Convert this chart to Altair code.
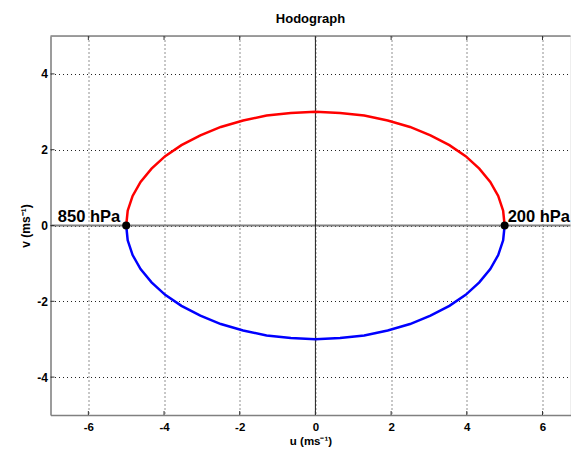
import altair as alt
import pandas as pd

# ---- data ----
u_vals = [-5.00, -4.96, -4.83, -4.62, -4.33, -3.97, -3.54, -3.04, -2.50, -1.91, -1.29, -0.65, 0.00,
          0.65, 1.29, 1.91, 2.50, 3.04, 3.54, 3.97, 4.33, 4.62, 4.83, 4.96, 5.00]
red_v = [0.00, 0.39, 0.78, 1.15, 1.50, 1.83, 2.12, 2.38, 2.60, 2.77, 2.90, 2.97, 3.00,
         2.97, 2.90, 2.77, 2.60, 2.38, 2.12, 1.83, 1.50, 1.15, 0.78, 0.39, 0.00]
blue_v = [0.00, -0.39, -0.78, -1.15, -1.50, -1.83, -2.12, -2.38, -2.60, -2.77, -2.90, -2.97, -3.00,
          -2.97, -2.90, -2.77, -2.60, -2.38, -2.12, -1.83, -1.50, -1.15, -0.78, -0.39, 0.00]
level_names = ["850 hPa", "200 hPa"]
level_u = [-5.0, 5.0]
level_v = [0.0, 0.0]
x_ticks = [-6, -4, -2, 0, 2, 4, 6]
y_ticks = [-4, -2, 0, 2, 4]

W, H = 520, 379
FONT = "Liberation Sans"
FRAME = "#808080"

red_df = pd.DataFrame({"u": u_vals, "v": red_v, "i": range(len(u_vals))})
blue_df = pd.DataFrame({"u": u_vals, "v": blue_v, "i": range(len(u_vals))})
lvl_df = pd.DataFrame({"u": level_u, "v": level_v, "name": level_names})
xt_df = pd.DataFrame({"u": x_ticks})
yt_df = pd.DataFrame({"v": y_ticks})

xscale = alt.Scale(domain=[-7, 6.74], nice=False, zero=False)
yscale = alt.Scale(domain=[-5, 5], nice=False, zero=False)

LBL = "'' + datum.value"

xaxis = alt.Axis(values=x_ticks, title="u (ms⁻¹)", grid=True, gridDash=[1, 3], gridColor="#222",
                 gridWidth=1, domainColor=FRAME, domainWidth=1.5, ticks=False, tickSize=0,
                 labelFont=FONT, labelFontWeight="bold", labelFontSize=11.5, labelPadding=6,
                 labelColor="#000", labelExpr=LBL,
                 titleFont=FONT, titleFontWeight="bold", titleFontSize=11.5,
                 titleColor="#000", titleY=29, titleBaseline="alphabetic")
yaxis = alt.Axis(values=y_ticks, title="v (ms⁻¹)", grid=True, gridDash=[1, 3], gridColor="#222",
                 gridWidth=1, domainColor=FRAME, domainWidth=1.5, ticks=False, tickSize=0,
                 labelFont=FONT, labelFontWeight="bold", labelFontSize=12, labelPadding=3,
                 labelColor="#000", labelExpr=LBL,
                 titleFont=FONT, titleFontWeight="bold", titleFontSize=12,
                 titleColor="#000", titleX=-21, titleY=H / 2, titleBaseline="alphabetic",
                 titleAngle=270)

X = lambda: alt.X("u:Q", scale=xscale, axis=xaxis)
Y = lambda: alt.Y("v:Q", scale=yscale, axis=yaxis)

red = alt.Chart(red_df).mark_line(color="#FF0000", strokeWidth=2.5).encode(
    x=X(), y=Y(), order="i:Q")
blue = alt.Chart(blue_df).mark_line(color="#0000FF", strokeWidth=2.5).encode(
    x=X(), y=Y(), order="i:Q")

zero_h = alt.Chart(pd.DataFrame({"v": [0]})).mark_rule(color=FRAME, strokeWidth=2).encode(y=Y())
zero_v = alt.Chart(pd.DataFrame({"u": [0]})).mark_rule(color="#222", strokeWidth=1).encode(x=X())

top_border = alt.Chart(pd.DataFrame({"a": [0]})).mark_rule(color=FRAME, strokeWidth=1.5).encode(
    x=alt.value(0), x2=alt.value(W), y=alt.value(0))

tick_bottom = alt.Chart(xt_df).mark_rule(color="#333", strokeWidth=1).encode(
    x=X(), y=alt.value(H), y2=alt.value(H - 4))
tick_top = alt.Chart(xt_df).mark_rule(color="#333", strokeWidth=1).encode(
    x=X(), y=alt.value(0), y2=alt.value(4))
tick_left = alt.Chart(yt_df).mark_rule(color="#333", strokeWidth=1).encode(
    y=Y(), x=alt.value(0), x2=alt.value(4))

pts = alt.Chart(lvl_df).mark_circle(size=64, color="#000", opacity=1).encode(x=X(), y=Y())

lbl_left = alt.Chart(lvl_df).transform_filter(alt.datum.u < 0).mark_text(
    align="right", baseline="alphabetic", dx=-6, dy=-4, font=FONT, fontWeight="bold",
    fontSize=16.5, color="#000").encode(x=X(), y=Y(), text="name:N")
lbl_right = alt.Chart(lvl_df).transform_filter(alt.datum.u > 0).mark_text(
    align="left", baseline="alphabetic", dx=3, dy=-4, font=FONT, fontWeight="bold",
    fontSize=16.5, color="#000").encode(x=X(), y=Y(), text="name:N")

chart = alt.layer(
    zero_h, zero_v, top_border, tick_bottom, tick_top, tick_left,
    red, blue, pts, lbl_left, lbl_right
).properties(
    width=W, height=H,
    title=alt.TitleParams("Hodograph", font=FONT, fontSize=13, fontWeight="bold",
                          color="#000", offset=9, anchor="middle"),
    autosize=alt.AutoSizeParams(type="none"),
    padding={"left": 42.5, "top": 28, "right": 0, "bottom": 34},
).configure_view(stroke=None).configure(background="white")

chart.save("out.html", embed_options={"renderer": "svg", "actions": False})
